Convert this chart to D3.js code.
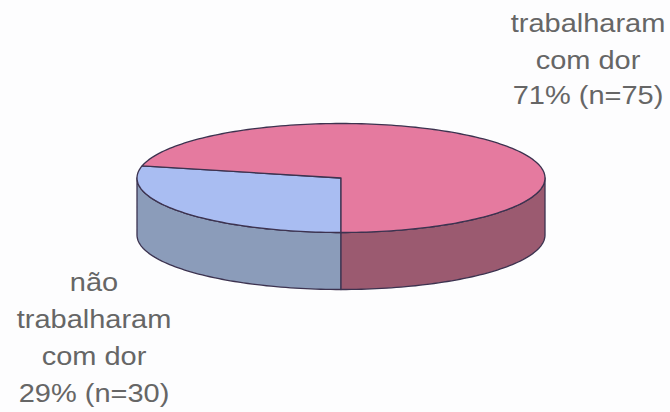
<!DOCTYPE html>
<html>
<head>
<meta charset="utf-8">
<script src="https://cdn.jsdelivr.net/npm/d3@7"></script>
<style>
  html, body { margin: 0; padding: 0; background: #fdfdfe; }
  svg { display: block; }
  text { font-family: "Liberation Sans", Arial, sans-serif; font-size: 26px; fill: #666; text-anchor: middle; }
</style>
</head>
<body>
<div id="chart"></div>
<script>
const categories = ["não trabalharam com dor", "trabalharam com dor"];
const counts = [30, 75];
const topColors = ["#a9bdf2", "#e57a9f"];
const sideColors = ["#8b9cba", "#9b5a70"];
const labelLines = [
    ["não", "trabalharam", "com dor", "29% (n=30)"],
    ["trabalharam", "com dor", "71% (n=75)"]
];

const width = 670;
const height = 412;
const depth = 57;

const svg = d3.select("#chart").append("svg")
    .attr("width", width)
    .attr("height", height);

svg.append("filter").attr("id", "soft")
    .append("feGaussianBlur").attr("stdDeviation", 0.55);

const x = d3.scaleLinear().domain([-1, 1]).range([137, 545]);
const y = d3.scaleLinear().domain([-1, 1]).range([123.5, 232.5]);

// d3.pie angles: clockwise from the top, first slice starts at the bottom
const slices = d3.pie().sort(null).startAngle(Math.PI).endAngle(3 * Math.PI)(counts);

const rim = d3.line()
    .x(a => x(Math.sin(a)))
    .y(a => y(-Math.cos(a)));

const rimLow = d3.line()
    .x(a => x(Math.sin(a)))
    .y(a => y(-Math.cos(a)) + depth);

function arcAngles(a0, a1) {
    const n = Math.max(2, Math.ceil((a1 - a0) * 40));
    return d3.range(n + 1).map(i => a0 + (a1 - a0) * i / n);
}

const pie = svg.append("g")
    .attr("filter", "url(#soft)")
    .attr("stroke", "#3c3350")
    .attr("stroke-width", 1.3)
    .attr("stroke-linejoin", "round");

// side walls, only the front half of the rim can be seen
const walls = [
    [slices[0].startAngle, 1.5 * Math.PI],
    [2.5 * Math.PI, slices[1].endAngle]
];
walls.forEach(([a0, a1], i) => {
    const angles = arcAngles(a0, a1);
    pie.append("path")
        .attr("d", rim(angles) + "L" + rimLow(angles.slice().reverse()).slice(1) + "Z")
        .attr("fill", sideColors[i]);
});

// top faces
slices.forEach((s, i) => {
    pie.append("path")
        .attr("d", "M" + x(0) + "," + y(0) + "L" + rim(arcAngles(s.startAngle, s.endAngle)).slice(1) + "Z")
        .attr("fill", topColors[i]);
});

// labels, the scanned text is a little wider than it is tall
const labelX = [94, 588];
const labelY = [
    [291, 328, 365, 402],
    [32, 69, 104]
];
labelLines.forEach((lines, i) => {
    svg.append("g")
        .attr("class", "label")
        .attr("aria-label", categories[i])
        .selectAll("text")
        .data(lines)
        .join("text")
        .attr("transform", (d, j) => `translate(${labelX[i]},${labelY[i][j]}) scale(1.115,1)`)
        .text(d => d);
});
</script>
</body>
</html>
